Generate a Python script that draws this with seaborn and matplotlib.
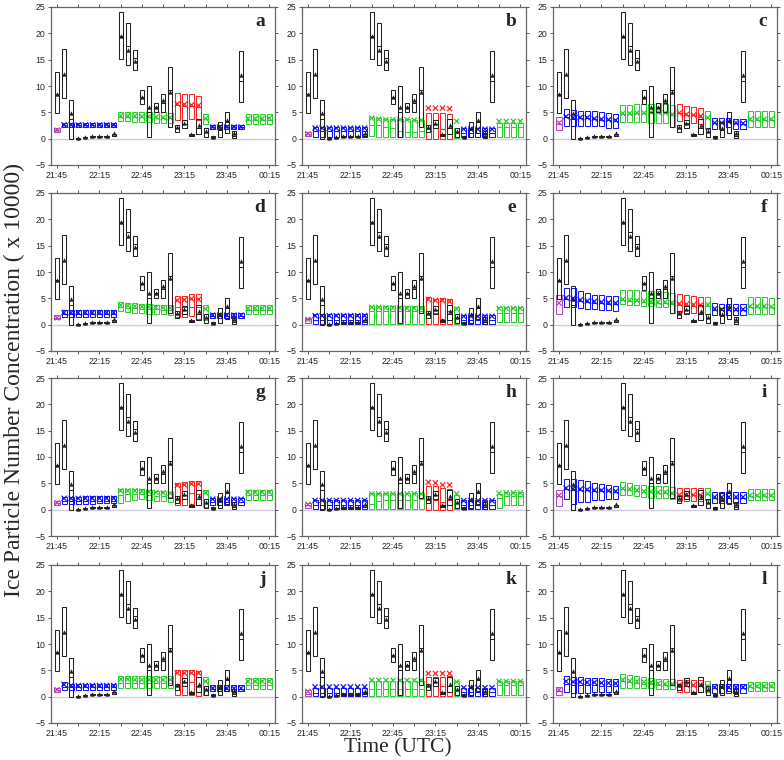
import matplotlib
matplotlib.use('Agg')
import matplotlib.pyplot as plt
import numpy as np
import pandas as pd
import seaborn as sns

sns.set_theme(style="ticks")
plt.rcParams['font.family'] = ['Liberation Sans', 'DejaVu Sans']

# 5-minute slots, 21:45 -> 00:15
slot_times = ['21:45', '21:50', '21:55', '22:00', '22:05', '22:10', '22:15', '22:20',
              '22:25', '22:30', '22:35', '22:40', '22:45', '22:50', '22:55', '23:00',
              '23:05', '23:10', '23:15', '23:20', '23:25', '23:30', '23:35', '23:40',
              '23:45', '23:50', '23:55', '00:00', '00:05', '00:10', '00:15']
tick_labels = ['21:45', '22:15', '22:45', '23:15', '23:45', '00:15']

# observed concentration (black boxes), 21:45 - 23:55
obs_lo = [4.8, 7.8, 0.0, 0.0, 0.1, 0.4, 0.4, 0.4, 0.5, 15.1, 13.9, 13.1, 6.6, 0.3,
          5.1, 5.1, 2.3, 1.3, 2.1, 0.6, 0.8, 0.4, 0.2, 0.3, 1.1, 0.2, 7.0]
obs_med = [8.4, 12.1, 3.7, 0.1, 0.3, 0.5, 0.5, 0.5, 0.6, 19.5, 17.6, 15.4, 8.0, 5.0,
           6.0, 6.7, 9.2, 2.0, 2.7, 0.7, 2.0, 1.2, 0.3, 1.7, 3.2, 0.5, 10.9]
obs_hi = [12.7, 17.0, 7.4, 0.2, 0.4, 0.6, 0.6, 0.6, 0.8, 24.0, 21.9, 16.9, 9.3, 10.0,
          6.8, 8.5, 13.6, 2.5, 3.5, 0.9, 3.7, 2.0, 0.5, 3.2, 5.0, 1.4, 16.6]
obs_mean = [8.4, 12.2, 4.9, 0.2, 0.3, 0.6, 0.6, 0.6, 1.0, 19.5, 16.8, 14.7, 8.0, 6.0,
            6.0, 7.4, 8.8, 2.2, 3.0, 0.8, 2.5, 1.4, 0.4, 2.0, 3.6, 1.1, 12.0]

# regime of each model slot
slot_group = ['m', 'b', 'b', 'b', 'b', 'b', 'b', 'b', 'b', 'g', 'g', 'g', 'g', 'g', 'g',
              'g', 'g', 'r', 'r', 'r', 'r', 'g', 'b', 'b', 'b', 'b', 'b', 'g', 'g', 'g', 'g']

# simulated concentration, one set per panel
lo_a = [1.25, 2.2, 2.2, 2.2, 2.2, 2.2, 2.2, 2.2, 2.2, 3.3, 3.3, 3.2, 3.2, 3.1, 3.0, 3.0, 3.0, 3.6, 3.6, 3.75, 3.6, 2.8, 1.9, 1.9, 1.9, 1.9, 1.9, 2.8, 2.8, 2.8, 2.8]
med_a = [1.6, 2.6, 2.6, 2.6, 2.6, 2.6, 2.6, 2.6, 2.6, 4.2, 4.2, 4.2, 4.1, 4.1, 4.0, 3.9, 3.9, 6.3, 6.2, 6.2, 6.0, 3.7, 2.2, 2.2, 2.2, 2.2, 2.2, 3.6, 3.6, 3.6, 3.6]
hi_a = [2.0, 3.0, 3.0, 3.0, 3.0, 3.0, 3.0, 3.0, 3.0, 5.1, 5.1, 5.1, 5.0, 5.0, 5.0, 5.0, 4.9, 8.75, 8.4, 8.4, 8.1, 4.7, 2.6, 2.6, 2.6, 2.6, 2.6, 4.7, 4.7, 4.7, 4.7]
mean_a = [1.6, 2.6, 2.6, 2.6, 2.6, 2.6, 2.6, 2.6, 2.6, 4.3, 4.3, 4.3, 4.2, 4.2, 4.1, 4.0, 4.0, 6.6, 6.5, 6.4, 6.3, 3.8, 2.2, 2.2, 2.2, 2.2, 2.2, 3.8, 3.8, 3.8, 3.9]

lo_b = [0.5, 0.4, 0.4, 0.4, 0.4, 0.4, 0.4, 0.4, 0.4, 0.5, 0.4, 0.4, 0.4, 0.3, 0.3, 0.3, 0.3, 0.0, 0.0, 0.0, 0.0, 0.2, 0.3, 0.3, 0.3, 0.3, 0.3, 0.4, 0.4, 0.4, 0.4]
med_b = [0.9, 1.4, 1.4, 1.4, 1.4, 1.4, 1.4, 1.4, 1.4, 2.6, 2.5, 2.3, 2.0, 1.5, 1.3, 1.2, 1.5, 1.9, 2.1, 1.8, 2.0, 1.0, 1.0, 1.0, 1.0, 1.0, 1.0, 2.2, 2.2, 2.2, 2.3]
hi_b = [1.3, 2.2, 2.2, 2.2, 2.2, 2.2, 2.2, 2.2, 2.2, 4.1, 3.9, 3.8, 3.8, 3.7, 3.7, 3.6, 3.6, 4.8, 4.8, 4.8, 4.7, 2.0, 2.0, 2.0, 2.0, 2.0, 2.0, 3.0, 3.0, 3.0, 3.0]
mean_b = [0.9, 2.0, 2.0, 2.0, 2.0, 2.0, 2.0, 2.0, 2.0, 3.9, 3.7, 3.6, 3.6, 3.6, 3.6, 3.5, 3.5, 5.8, 5.8, 5.8, 5.7, 3.3, 1.8, 1.8, 1.8, 1.8, 1.8, 3.3, 3.3, 3.3, 3.3]

lo_c = [1.6, 2.4, 2.4, 2.4, 2.4, 2.4, 2.4, 2.1, 2.1, 3.2, 3.2, 3.1, 3.1, 3.0, 3.0, 3.0, 2.25, 3.3, 3.0, 3.0, 2.7, 1.9, 1.9, 1.9, 2.25, 1.9, 1.9, 2.25, 2.25, 2.25, 2.25]
med_c = [2.8, 4.1, 3.9, 3.9, 3.9, 3.7, 3.6, 3.5, 3.4, 4.7, 4.7, 4.8, 4.8, 4.9, 4.9, 4.8, 4.5, 4.8, 4.5, 4.4, 4.2, 3.9, 2.9, 2.9, 3.1, 2.9, 2.8, 3.6, 3.6, 3.6, 3.6]
hi_c = [4.1, 5.6, 5.5, 5.3, 5.3, 5.3, 5.1, 4.9, 4.7, 6.4, 6.4, 6.6, 6.6, 6.6, 6.75, 6.6, 6.4, 6.6, 6.25, 6.0, 5.8, 5.2, 3.9, 3.9, 3.9, 3.8, 3.75, 5.2, 5.2, 5.2, 5.2]
mean_c = [3.0, 4.2, 4.0, 4.0, 4.0, 3.8, 3.7, 3.6, 3.5, 4.8, 4.8, 4.9, 4.9, 5.0, 5.0, 4.9, 4.6, 4.9, 4.6, 4.5, 4.3, 4.0, 3.0, 3.0, 3.2, 3.0, 2.9, 3.7, 3.7, 3.7, 3.7]

lo_d = [1.0, 1.5, 1.5, 1.5, 1.5, 1.5, 1.5, 1.5, 1.5, 2.5, 2.4, 2.3, 2.2, 2.1, 2.0, 2.0, 1.9, 1.4, 1.5, 1.6, 1.0, 0.8, 1.2, 1.2, 1.2, 1.2, 1.2, 2.0, 2.0, 2.0, 2.0]
med_d = [1.3, 2.0, 2.0, 2.0, 2.0, 2.0, 2.0, 2.0, 2.0, 3.3, 3.2, 3.1, 3.0, 3.0, 2.9, 2.8, 2.8, 3.3, 3.3, 3.4, 3.4, 2.0, 1.7, 1.7, 1.7, 1.7, 1.7, 2.7, 2.7, 2.7, 2.7]
hi_d = [1.8, 2.7, 2.7, 2.7, 2.7, 2.7, 2.7, 2.7, 2.7, 4.3, 4.2, 4.1, 4.0, 3.9, 3.8, 3.8, 3.7, 5.4, 5.5, 5.8, 5.8, 3.7, 2.2, 2.2, 2.2, 2.2, 2.2, 3.7, 3.7, 3.7, 3.7]
mean_d = [1.3, 2.3, 2.3, 2.3, 2.3, 2.3, 2.3, 2.3, 2.3, 3.7, 3.6, 3.5, 3.4, 3.4, 3.3, 3.2, 3.2, 4.6, 4.7, 4.9, 4.8, 3.0, 1.8, 1.8, 1.8, 1.8, 1.8, 3.1, 3.1, 3.1, 3.1]

lo_e = [0.4, 0.1, 0.1, 0.1, 0.1, 0.1, 0.1, 0.1, 0.1, 0.1, 0.1, 0.1, 0.1, 0.1, 0.1, 0.1, 0.1, 0.1, 0.1, 0.1, 0.1, 0.1, 0.2, 0.2, 0.2, 0.2, 0.2, 0.5, 0.5, 0.5, 0.5]
med_e = [1.0, 0.9, 0.9, 0.9, 0.9, 0.9, 0.9, 0.9, 0.9, 2.6, 2.6, 2.6, 2.6, 2.6, 2.6, 2.6, 2.6, 2.2, 2.2, 1.0, 2.5, 1.5, 0.8, 0.8, 0.8, 0.8, 0.8, 2.3, 2.3, 2.3, 2.3]
hi_e = [1.35, 2.0, 2.0, 2.0, 2.0, 2.0, 2.0, 2.0, 2.0, 3.6, 3.6, 3.5, 3.5, 3.5, 3.5, 3.5, 3.5, 5.2, 4.9, 5.0, 4.8, 3.3, 1.8, 1.8, 1.8, 1.8, 1.8, 3.4, 3.4, 3.4, 3.4]
mean_e = [1.0, 1.7, 1.7, 1.7, 1.7, 1.7, 1.7, 1.7, 1.7, 3.3, 3.3, 3.2, 3.2, 3.2, 3.1, 3.1, 3.1, 4.8, 4.6, 4.6, 4.4, 3.0, 1.6, 1.6, 1.6, 1.6, 1.6, 3.1, 3.1, 3.1, 3.1]

lo_f = [2.1, 3.4, 3.4, 3.1, 2.9, 2.9, 2.8, 2.8, 2.6, 3.9, 3.8, 3.7, 3.6, 3.5, 3.4, 3.3, 2.3, 2.4, 2.3, 2.3, 2.2, 2.0, 1.8, 1.8, 1.8, 1.8, 1.8, 2.0, 2.0, 2.0, 2.0]
med_f = [4.8, 4.8, 4.8, 4.5, 4.3, 4.2, 4.1, 4.0, 3.9, 4.6, 4.5, 4.4, 4.3, 4.2, 4.1, 4.1, 4.0, 3.8, 3.7, 3.6, 3.5, 3.6, 2.8, 2.8, 2.8, 2.8, 2.8, 3.3, 3.3, 3.3, 3.3]
hi_f = [5.6, 7.0, 7.0, 6.3, 6.0, 5.6, 5.6, 5.5, 5.4, 6.5, 6.5, 6.5, 6.4, 6.3, 6.3, 6.2, 6.0, 5.8, 5.6, 5.5, 5.2, 5.3, 4.1, 4.0, 4.0, 4.0, 4.0, 5.2, 5.2, 5.2, 5.1]
mean_f = [4.1, 5.1, 5.0, 4.7, 4.5, 4.4, 4.3, 4.2, 4.1, 4.8, 4.7, 4.6, 4.5, 4.4, 4.3, 4.3, 4.2, 4.0, 3.9, 3.8, 3.7, 3.8, 3.0, 2.9, 2.9, 2.9, 2.9, 3.5, 3.5, 3.5, 3.4]

lo_g = [0.9, 1.0, 1.0, 1.0, 1.1, 1.1, 1.2, 1.2, 1.2, 1.2, 1.6, 1.8, 2.0, 1.8, 1.6, 1.6, 1.5, 0.8, 0.9, 1.0, 0.9, 0.6, 0.9, 0.9, 0.9, 0.9, 0.9, 1.8, 1.8, 1.8, 1.8]
med_g = [1.3, 1.6, 1.6, 1.6, 1.6, 1.6, 1.6, 1.6, 1.6, 2.8, 2.9, 3.0, 3.0, 2.8, 2.6, 2.5, 2.4, 2.5, 2.8, 3.2, 3.0, 2.0, 1.5, 1.5, 1.5, 1.5, 1.5, 2.8, 2.8, 2.8, 2.8]
hi_g = [1.6, 2.5, 2.5, 2.5, 2.5, 2.6, 2.6, 2.6, 2.6, 3.9, 3.9, 4.0, 3.9, 3.7, 3.6, 3.5, 3.4, 5.1, 5.2, 5.4, 5.4, 3.7, 2.3, 2.3, 2.3, 2.3, 2.3, 3.7, 3.7, 3.7, 3.7]
mean_g = [1.3, 2.15, 2.15, 2.15, 2.15, 2.15, 2.15, 2.15, 2.15, 3.6, 3.6, 3.6, 3.5, 3.4, 3.3, 3.2, 3.1, 4.6, 4.7, 4.9, 4.9, 3.2, 2.0, 2.0, 2.0, 2.0, 2.0, 3.3, 3.3, 3.3, 3.3]

lo_h = [0.3, 0.2, 0.2, 0.2, 0.2, 0.2, 0.2, 0.2, 0.2, 0.2, 0.2, 0.2, 0.2, 0.2, 0.2, 0.2, 0.2, 0.0, 0.0, 0.0, 0.0, 0.2, 0.2, 0.2, 0.2, 0.2, 0.2, 0.3, 0.9, 0.9, 0.9]
med_h = [0.8, 0.8, 0.8, 0.8, 0.8, 0.8, 0.8, 0.8, 0.8, 1.0, 1.6, 1.8, 1.8, 1.8, 1.8, 1.8, 2.0, 1.8, 1.8, 1.4, 1.8, 1.3, 0.9, 0.9, 0.9, 0.9, 0.9, 2.2, 2.5, 2.5, 2.5]
hi_h = [1.25, 1.9, 1.9, 1.9, 1.9, 1.9, 1.9, 1.9, 1.9, 3.2, 3.2, 3.2, 3.2, 3.2, 3.2, 3.2, 3.2, 4.4, 4.4, 4.2, 4.0, 2.7, 1.75, 1.75, 1.75, 1.75, 1.75, 3.0, 3.4, 3.4, 3.4]
mean_h = [1.0, 1.75, 1.75, 1.75, 1.75, 1.75, 1.75, 1.75, 1.75, 3.0, 3.0, 3.0, 3.0, 3.0, 3.0, 3.0, 3.0, 5.2, 5.1, 4.7, 4.7, 3.0, 1.7, 1.7, 1.7, 1.7, 1.7, 3.1, 3.2, 3.2, 3.2]

lo_i = [0.7, 2.0, 1.1, 1.5, 1.5, 1.8, 1.8, 2.1, 2.1, 2.7, 2.7, 2.6, 2.4, 2.2, 2.2, 2.2, 2.1, 1.6, 1.6, 1.6, 1.6, 1.8, 1.3, 1.3, 1.3, 1.3, 1.3, 1.8, 1.8, 1.8, 1.8]
med_i = [2.6, 4.0, 3.9, 3.8, 3.7, 3.6, 3.6, 3.5, 3.4, 3.9, 3.8, 3.6, 3.4, 3.3, 3.2, 3.2, 3.0, 2.7, 2.7, 2.7, 2.7, 2.9, 2.3, 2.3, 2.3, 2.3, 2.3, 2.6, 2.6, 2.6, 2.6]
hi_i = [3.8, 5.9, 5.9, 5.6, 5.4, 5.1, 4.9, 4.6, 4.5, 5.3, 5.1, 4.7, 4.6, 4.5, 4.5, 4.5, 4.3, 4.2, 4.2, 4.2, 4.2, 4.1, 3.4, 3.4, 3.4, 3.4, 3.4, 3.9, 3.9, 3.9, 3.9]
mean_i = [2.7, 4.1, 4.0, 3.9, 3.8, 3.7, 3.7, 3.6, 3.5, 4.0, 3.9, 3.7, 3.5, 3.4, 3.3, 3.3, 3.1, 2.8, 2.8, 2.8, 2.8, 3.0, 2.4, 2.4, 2.4, 2.4, 2.4, 2.7, 2.7, 2.7, 2.7]

lo_j = [0.8, 1.2, 1.2, 1.2, 1.2, 1.2, 1.2, 1.2, 1.2, 1.7, 1.7, 1.7, 1.7, 1.7, 1.7, 1.7, 1.7, 0.3, 0.3, 0.3, 0.1, 0.3, 1.0, 1.0, 1.0, 1.0, 1.0, 1.4, 1.4, 1.4, 1.4]
med_j = [1.3, 1.8, 1.8, 1.8, 1.8, 1.8, 1.8, 1.8, 1.8, 2.6, 2.6, 2.6, 2.6, 2.6, 2.6, 2.6, 2.6, 2.3, 2.0, 2.8, 1.8, 1.5, 1.5, 1.5, 1.5, 1.5, 1.5, 2.2, 2.2, 2.2, 2.2]
hi_j = [1.7, 2.7, 2.5, 2.5, 2.5, 2.5, 2.5, 2.5, 2.5, 4.0, 4.0, 4.0, 4.0, 4.0, 4.0, 4.0, 4.0, 5.1, 5.0, 5.0, 4.9, 3.65, 2.2, 2.2, 2.2, 2.2, 2.2, 3.5, 3.5, 3.5, 3.5]
mean_j = [1.3, 2.3, 2.1, 2.1, 2.1, 2.1, 2.1, 2.1, 2.1, 3.3, 3.3, 3.2, 3.2, 3.2, 3.2, 3.2, 3.2, 4.5, 4.5, 4.5, 4.5, 2.9, 1.6, 1.6, 1.6, 1.6, 1.6, 2.9, 2.9, 2.9, 2.9]

lo_k = [0.1, 0.1, 0.1, 0.1, 0.1, 0.1, 0.1, 0.1, 0.1, 0.1, 0.1, 0.1, 0.1, 0.1, 0.1, 0.1, 0.1, 0.1, 0.1, 0.1, 0.1, 0.1, 0.1, 0.1, 0.1, 0.1, 0.1, 0.3, 0.3, 0.3, 0.3]
med_k = [0.6, 0.7, 0.7, 0.7, 0.7, 0.7, 0.7, 0.7, 0.7, 1.5, 1.5, 1.5, 1.5, 1.5, 1.5, 1.5, 1.5, 2.0, 2.0, 2.0, 2.0, 1.3, 0.8, 0.8, 0.8, 0.8, 0.8, 2.2, 2.2, 2.2, 2.2]
hi_k = [1.2, 1.7, 1.7, 1.7, 1.7, 1.7, 1.7, 1.7, 1.7, 2.9, 2.9, 2.9, 2.9, 2.9, 2.9, 2.9, 2.9, 3.7, 3.7, 3.8, 3.9, 2.9, 1.7, 1.7, 1.7, 1.7, 1.7, 2.9, 2.9, 2.9, 2.9]
mean_k = [1.0, 1.85, 1.85, 1.85, 1.85, 1.85, 1.85, 1.85, 1.85, 3.1, 3.1, 3.1, 3.1, 3.1, 3.1, 3.1, 3.1, 4.4, 4.4, 4.4, 4.4, 2.8, 1.7, 1.7, 1.7, 1.7, 1.7, 2.9, 2.9, 2.9, 2.9]

lo_l = [0.3, 0.8, 0.7, 0.7, 0.7, 0.8, 0.8, 0.8, 0.8, 1.7, 1.7, 1.7, 1.6, 1.6, 1.5, 1.5, 1.5, 0.9, 0.9, 0.9, 0.9, 0.9, 0.7, 0.7, 0.7, 0.7, 0.7, 1.1, 1.1, 1.1, 1.1]
med_l = [1.0, 2.4, 2.3, 2.3, 2.2, 2.2, 2.1, 2.1, 2.0, 2.9, 2.7, 2.6, 2.5, 2.4, 2.3, 2.2, 2.2, 2.0, 2.0, 2.0, 2.0, 1.8, 1.6, 1.6, 1.6, 1.6, 1.6, 1.8, 1.8, 1.8, 1.8]
hi_l = [1.8, 3.9, 3.8, 3.7, 3.6, 3.5, 3.5, 3.4, 3.3, 4.3, 4.1, 4.0, 3.8, 3.6, 3.4, 3.3, 3.3, 3.1, 3.1, 3.1, 3.1, 3.0, 2.5, 2.5, 2.5, 2.5, 2.5, 2.7, 2.7, 2.7, 2.7]
mean_l = [1.3, 2.9, 2.8, 2.8, 2.7, 2.7, 2.6, 2.6, 2.5, 3.2, 3.0, 2.9, 2.8, 2.7, 2.5, 2.4, 2.4, 2.2, 2.2, 2.2, 2.2, 2.0, 1.8, 1.8, 1.8, 1.8, 1.8, 2.0, 2.0, 2.0, 2.0]

panels = {
    'a': (lo_a, med_a, hi_a, mean_a), 'b': (lo_b, med_b, hi_b, mean_b),
    'c': (lo_c, med_c, hi_c, mean_c), 'd': (lo_d, med_d, hi_d, mean_d),
    'e': (lo_e, med_e, hi_e, mean_e), 'f': (lo_f, med_f, hi_f, mean_f),
    'g': (lo_g, med_g, hi_g, mean_g), 'h': (lo_h, med_h, hi_h, mean_h),
    'i': (lo_i, med_i, hi_i, mean_i), 'j': (lo_j, med_j, hi_j, mean_j),
    'k': (lo_k, med_k, hi_k, mean_k), 'l': (lo_l, med_l, hi_l, mean_l),
}

group_colors = {'m': '#b548b5', 'b': '#1414ff', 'g': '#2ecc2e', 'r': '#ff2424'}
obs_color = '#222222'
model_w, obs_w = 0.72, 0.6

fig = plt.figure(figsize=(7.84, 7.6), dpi=100)
W, H = 784.0, 760.0
col_left = [51, 302, 553]
row_top = [7, 193, 378, 565]
ax_w, ax_h = 224, 158

obs_df = pd.DataFrame({'slot': np.arange(len(obs_lo)), 'lo': obs_lo, 'med': obs_med,
                       'hi': obs_hi, 'mean': obs_mean})

for n, (letter, (lo, med, hi, mean)) in enumerate(panels.items()):
    r, c = divmod(n, 3)
    ax = fig.add_axes([col_left[c] / W, 1 - (row_top[r] + ax_h) / H, ax_w / W, ax_h / H])

    mdf = pd.DataFrame({'slot': np.arange(len(slot_times)), 'lo': lo, 'med': med,
                        'hi': hi, 'mean': mean, 'grp': slot_group})
    cols = [group_colors[g] for g in mdf['grp']]

    ax.axhline(0, color='#cfcfe0', lw=1.0, zorder=0)

    # model boxes
    ax.bar(mdf['slot'], mdf['hi'] - mdf['lo'], bottom=mdf['lo'], width=model_w,
           fill=False, edgecolor=cols, linewidth=0.75, zorder=2)
    ax.hlines(mdf['med'], mdf['slot'] - model_w / 2, mdf['slot'] + model_w / 2,
              colors=cols, linewidth=0.75, zorder=2)
    sns.scatterplot(data=mdf, x='slot', y='mean', hue='grp', palette=group_colors,
                    marker='x', s=14, linewidth=0.9, legend=False, ax=ax, zorder=3)

    # observed boxes
    ax.bar(obs_df['slot'], obs_df['hi'] - obs_df['lo'], bottom=obs_df['lo'], width=obs_w,
           fill=False, edgecolor=obs_color, linewidth=0.75, zorder=4)
    ax.hlines(obs_df['med'], obs_df['slot'] - obs_w / 2, obs_df['slot'] + obs_w / 2,
              colors=obs_color, linewidth=0.75, zorder=4)
    sns.scatterplot(data=obs_df, x='slot', y='mean', color=obs_color, marker='^',
                    s=10, linewidth=0, legend=False, ax=ax, zorder=5)

    ax.set_xlim(-0.85, 30.8)
    ax.set_ylim(-5, 25)
    ax.set_yticks([-5, 0, 5, 10, 15, 20, 25])
    ax.set_xticks(np.arange(0, 31, 6))
    ax.set_xticklabels(tick_labels)
    ax.set_xticks(np.arange(3, 31, 6), minor=True)
    ax.set_xlabel('')
    ax.set_ylabel('')
    ax.tick_params(axis='both', which='both', direction='out', length=2.5, width=0.7,
                   color='#555555', labelsize=6.3, pad=1.5, top=True, right=True)
    for sp in ax.spines.values():
        sp.set_color('#666666')
        sp.set_linewidth(0.9)
    ax.text(0.957, 0.91, letter, transform=ax.transAxes, ha='right', va='center',
            fontsize=14, fontweight='bold', family='Liberation Serif')

fig.text(0.018, 0.5, 'Ice Particle Number Concentration ( x 10000)', rotation=90,
         ha='center', va='center', fontsize=17, family='Liberation Serif')
fig.text(0.508, 0.016, 'Time (UTC)', ha='center', va='center', fontsize=15.5,
         family='Liberation Serif')

fig.savefig('out.png', dpi=100)
